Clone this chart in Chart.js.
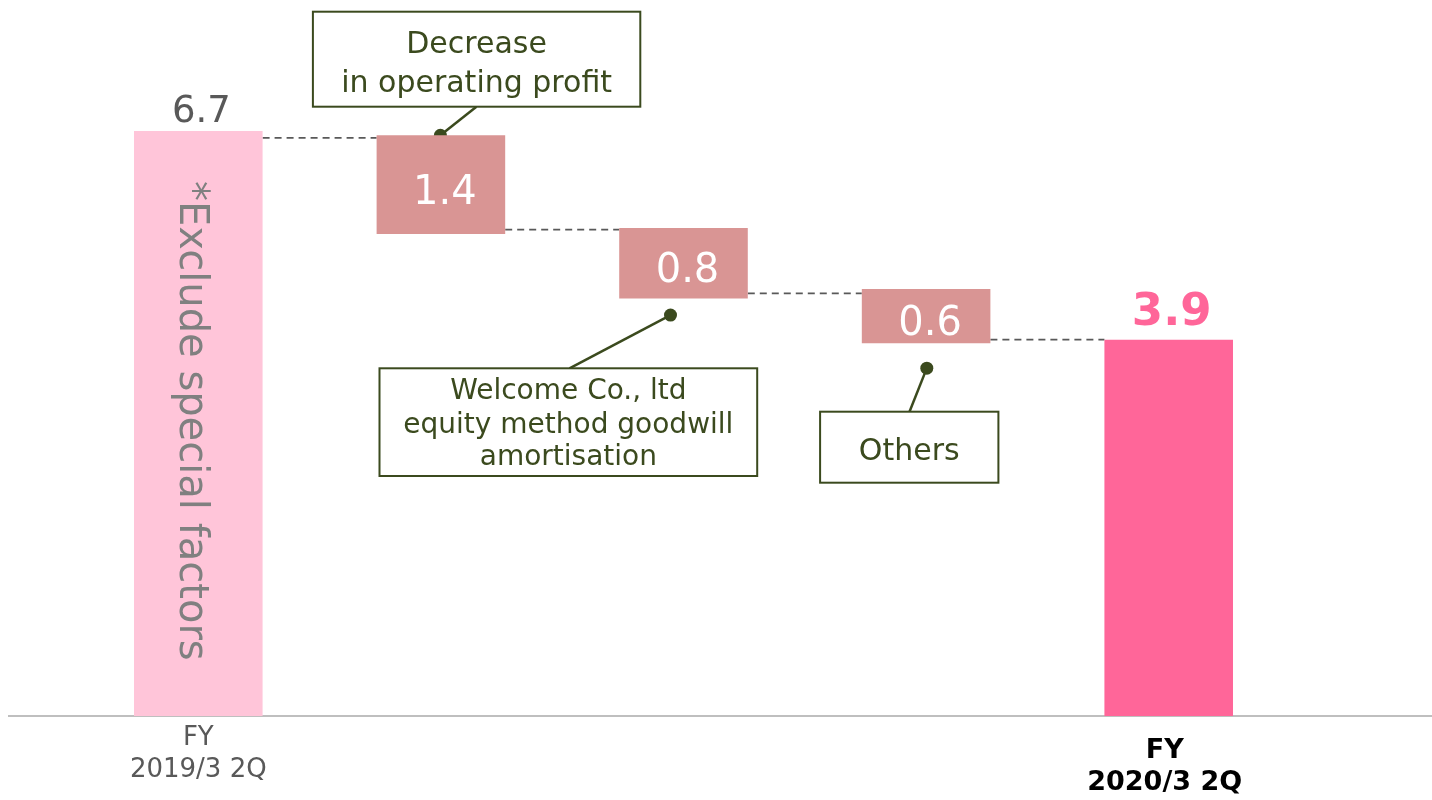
<!DOCTYPE html>
<html>
<head>
<meta charset="utf-8">
<script src="https://cdn.jsdelivr.net/npm/chart.js@4"></script>
<style>
  html, body { margin: 0; padding: 0; background: #fff; }
  #wrap { width: 1432px; height: 800px; position: relative; }
</style>
</head>
<body>
<div id="wrap"><canvas id="myChart"></canvas></div>
<script>
// categories of the waterfall
var categories = ["FY 2019/3 2Q", "Decrease in operating profit", "Welcome Co., ltd equity method goodwill amortisation", "Others", "FY 2020/3 2Q"];
var tickLabels = [["FY", "2019/3 2Q"], null, null, null, ["FY", "2020/3 2Q"]];
var valueLabels = ["6.7", "1.4", "0.8", "0.6", "3.9"];

// bar ends as they are drawn in the picture
var barLow = [0, 5.52, 4.78, 4.27, 0];
var barHigh = [6.7, 6.65, 5.59, 4.89, 4.31];
// dashed step lines between bars
var connectorLevels = [6.62, 5.57, 4.84, 4.31];

var barColors = ["#FFC5D9", "#D99594", "#D99594", "#D99594", "#FF6699"];
var olive = "#3B4A1E";
var fontName = "'DejaVu Sans', Verdana, sans-serif";

// callout boxes (offsets are from the bar they point at)
var callouts = [
  { bar: 1, anchor: "top", dot: [-0.5, 0], box: [-128, 11.7, 327.4, 95], leader: 35.5,
    lines: ["Decrease", "in operating profit"], size: 30, baselines: [41.6, 80] },
  { bar: 2, anchor: "bottom", dot: [-13, 16.5], box: [-304, 368.3, 377.7, 107.7], leader: -114,
    lines: ["Welcome Co., ltd", "equity method goodwill", "amortisation"], size: 28, baselines: [31, 64.4, 96.7] },
  { bar: 3, anchor: "bottom", dot: [0.7, 25], box: [-106, 411.7, 178.3, 71], leader: -16.6,
    lines: ["Others"], size: 30, baselines: [48.3] }
];

var waterfallDecor = {
  id: "waterfallDecor",
  beforeDatasetsDraw: function(chart) {
    var ctx = chart.ctx;
    var y = chart.scales.y;
    var bars = chart.getDatasetMeta(0).data;
    var zero = y.getPixelForValue(0);
    ctx.save();

    // axis line
    ctx.strokeStyle = "#BFBFBF";
    ctx.lineWidth = 2;
    ctx.beginPath();
    ctx.moveTo(8, zero);
    ctx.lineTo(chart.width, zero);
    ctx.stroke();

    // connectors
    ctx.strokeStyle = "#595959";
    ctx.lineWidth = 1.8;
    ctx.setLineDash([7, 5]);
    for (var i = 0; i < connectorLevels.length; i++) {
      var yy = y.getPixelForValue(connectorLevels[i]);
      ctx.beginPath();
      ctx.moveTo(bars[i].x + bars[i].width / 2, yy);
      ctx.lineTo(bars[i + 1].x - bars[i + 1].width / 2, yy);
      ctx.stroke();
    }
    ctx.setLineDash([]);

    // callouts
    callouts.forEach(function(c) {
      var b = bars[c.bar];
      var ay = c.anchor === "top" ? b.y : b.base;
      var dx = b.x + c.dot[0], dy = ay + c.dot[1];
      var left = b.x + c.box[0], top = c.box[1], w = c.box[2], h = c.box[3];
      var ly = top > dy ? top : top + h;

      ctx.strokeStyle = olive;
      ctx.lineWidth = 2.5;
      ctx.beginPath();
      ctx.moveTo(dx, dy);
      ctx.lineTo(b.x + c.leader, ly);
      ctx.stroke();
      ctx.fillStyle = olive;
      ctx.beginPath();
      ctx.arc(dx, dy, 6.5, 0, Math.PI * 2);
      ctx.fill();

      ctx.fillStyle = "#fff";
      ctx.fillRect(left, top, w, h);
      ctx.lineWidth = 2;
      ctx.strokeRect(left, top, w, h);

      ctx.fillStyle = olive;
      ctx.font = c.size + "px " + fontName;
      ctx.textAlign = "center";
      ctx.textBaseline = "alphabetic";
      c.lines.forEach(function(t, k) {
        ctx.fillText(t, left + w / 2, top + c.baselines[k]);
      });
    });
    ctx.restore();
  },
  afterDatasetsDraw: function(chart) {
    var ctx = chart.ctx;
    var bars = chart.getDatasetMeta(0).data;
    var last = bars.length - 1;
    ctx.save();
    ctx.textAlign = "center";
    ctx.textBaseline = "alphabetic";

    // value labels
    bars.forEach(function(b, i) {
      if (i === 0) {
        ctx.fillStyle = "#595959";
        ctx.font = "37px " + fontName;
        ctx.fillText(valueLabels[i], b.x + 3, b.y - 9);
      } else if (i === last) {
        ctx.fillStyle = "#FF6699";
        ctx.font = "bold 45px " + fontName;
        ctx.fillText(valueLabels[i], b.x + 3, b.y - 15);
      } else {
        ctx.fillStyle = "#FFFFFF";
        ctx.font = "40px " + fontName;
        ctx.fillText(valueLabels[i], b.x + 4, (b.y + b.base) / 2 + 19);
      }
    });

    // rotated note inside the first bar
    var b0 = bars[0];
    ctx.save();
    ctx.translate(b0.x - 18, b0.y + 50);
    ctx.rotate(Math.PI / 2);
    ctx.textAlign = "left";
    ctx.fillStyle = "#808080";
    ctx.font = "40px " + fontName;
    ctx.fillText("*Exclude special factors", 0, 0);
    ctx.restore();

    // category labels
    tickLabels.forEach(function(lab, i) {
      if (!lab) return;
      var b = bars[i];
      if (i === last) {
        ctx.fillStyle = "#000000";
        ctx.font = "bold 27px " + fontName;
        ctx.fillText(lab[0], b.x - 4, 758);
        ctx.fillText(lab[1], b.x - 4, 790);
      } else {
        ctx.fillStyle = "#595959";
        ctx.font = "26px " + fontName;
        ctx.fillText(lab[0], b.x, 745);
        ctx.fillText(lab[1], b.x, 777);
      }
    });
    ctx.restore();
  }
};

var ctx = document.getElementById("myChart").getContext("2d");

new Chart(ctx, {
  type: "bar",
  data: {
    labels: categories,
    datasets: [{
      data: barLow.map(function(v, i) { return [v, barHigh[i]]; }),
      backgroundColor: barColors,
      borderWidth: 0,
      categoryPercentage: 0.53,
      barPercentage: 1
    }]
  },
  options: {
    responsive: true,
    maintainAspectRatio: false,
    animation: false,
    layout: { padding: { left: 77, right: 142, top: 0, bottom: 84 } },
    scales: {
      x: { display: false },
      y: { display: false, min: 0, max: 8.2 }
    },
    plugins: {
      legend: { display: false },
      tooltip: { enabled: false }
    }
  },
  plugins: [waterfallDecor]
});
</script>
</body>
</html>
